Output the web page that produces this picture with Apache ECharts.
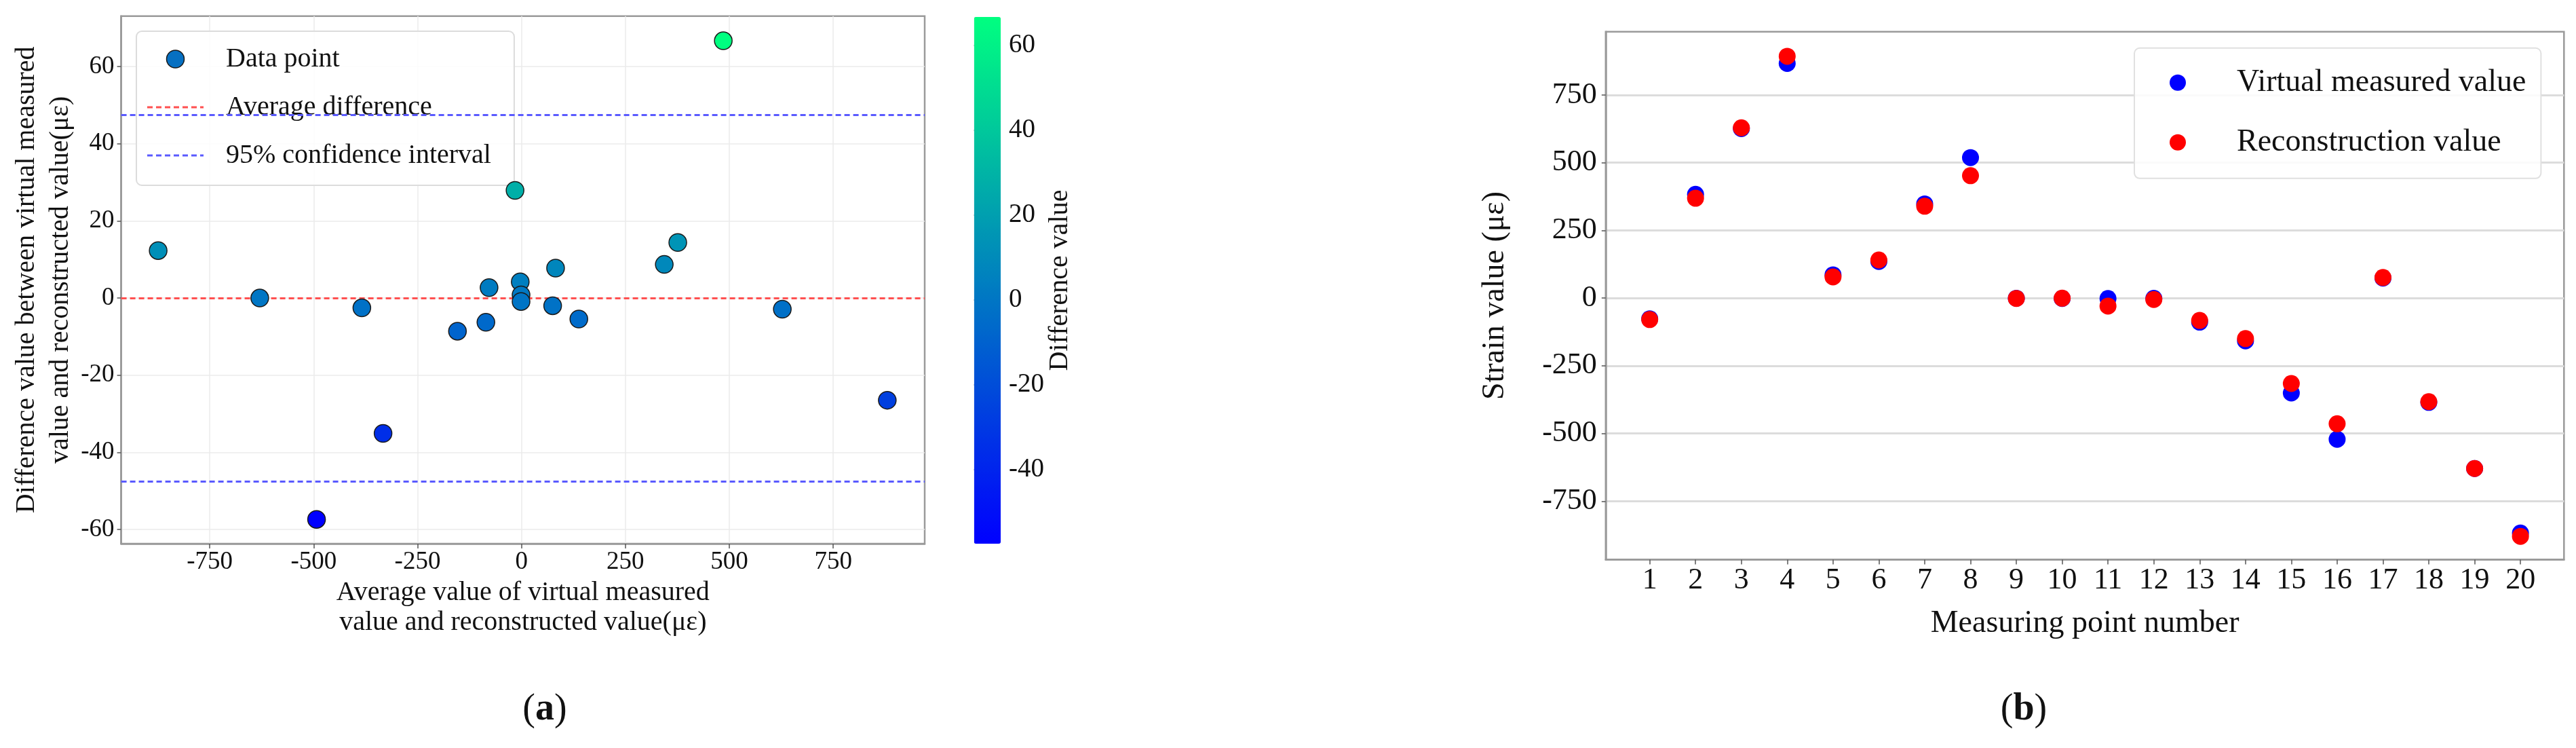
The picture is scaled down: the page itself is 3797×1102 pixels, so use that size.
<!DOCTYPE html>
<html>
<head>
<meta charset="utf-8">
<script src="https://cdn.jsdelivr.net/npm/echarts@6/dist/echarts.min.js"></script>
<style>
  html, body { margin: 0; padding: 0; background: #fff; }
  #chart { width: 3797px; height: 1102px; }
</style>
</head>
<body>
<div id="chart"></div>
<script>
// (a) Bland-Altman: average vs difference
const avgValues = [-874, -629.6, -384, -154, -85.6, -78, -15.5, -3, -1, -1, 75, 82, 138, 343.5, 376, 485.5, 627.5, 880, -333, -493]
const diffValues = [12.3, 0, -2.55, -8.6, -6.3, 2.7, 27.9, 4.2, 0.8, -0.9, -2.0, 7.75, -5.45, 8.7, 14.4, 66.7, -2.9, -26.5, -35.1, -57.4]
const meanDiff = 0
const ciUpper = 47.4
const ciLower = -47.5
const aXTicks = [-750, -500, -250, 0, 250, 500, 750]
const aYTicks = [-60, -40, -20, 0, 20, 40, 60]
const cbTicks = [-40, -20, 0, 20, 40, 60]

// (b) measured vs reconstructed strain per point
const pointNumbers = [1, 2, 3, 4, 5, 6, 7, 8, 9, 10, 11, 12, 13, 14, 15, 16, 17, 18, 19, 20]
const measuredValues = [-76.6, 383.2, 626, 866.7, 85.9, 135.3, 347.9, 518.9, -0.6, -1.45, -1.6, -0.9, -88.8, -158.3, -350.6, -521.7, 74, -385.3, -629.6, -867.9]
const reconValues = [-79.4, 368.8, 629, 893.2, 78.1, 140.7, 339.2, 452.2, -1.4, -0.55, -29.5, -5.1, -82.5, -149.7, -315.5, -464.3, 76, -382.7, -629.6, -880.2]
const bYTicks = [-750, -500, -250, 0, 250, 500, 750]

const FONT = '"Liberation Serif", "Times New Roman", serif'
// dashed line icon for the legend
const DASH_ICON = 'path://M0,0h8v3h-8zM13,0h8v3h-8zM26,0h8v3h-8zM39,0h8v3h-8zM52,0h8v3h-8zM65,0h8v3h-8zM78,0h5v3h-5z'
const RED_LINE = '#ff5050'
const BLUE_LINE = '#5a5aff'

const chart = echarts.init(document.getElementById('chart'))

const option = {
  backgroundColor: '#fff',
  textStyle: { fontFamily: FONT, color: '#111' },
  animation: false,
  grid: [
    { left: 178.6, top: 23.7, width: 1184.4, height: 777.3, show: true, borderColor: '#9a9a9a', borderWidth: 2.5 },
    { left: 2366.8, top: 46.7, width: 1412.5, height: 777.7, show: true, borderColor: '#9a9a9a', borderWidth: 2.5 },
    // colorbar axis
    { left: 1435.7, top: 24.9, width: 39.3, height: 776.1, show: false }
  ],
  xAxis: [
    {
      gridIndex: 0, type: 'value', min: -963, max: 970,
      name: 'Average value of virtual measured\nvalue and reconstructed value(\u03bc\u03b5)',
      nameLocation: 'middle', nameGap: 49,
      nameTextStyle: { fontFamily: FONT, fontSize: 40, lineHeight: 44, color: '#111' },
      axisLine: { onZero: false, lineStyle: { color: '#999', width: 2.5 } },
      axisTick: { show: true, length: 7, customValues: aXTicks, lineStyle: { color: '#555', width: 1.5 } },
      axisLabel: { customValues: aXTicks, fontFamily: FONT, fontSize: 37, color: '#111', margin: 9 },
      splitLine: { show: true, lineStyle: { color: '#ebebeb', width: 1.5 } }
    },
    {
      gridIndex: 1, type: 'value', min: 0.04, max: 20.95,
      name: 'Measuring point number',
      nameLocation: 'middle', nameGap: 70,
      nameTextStyle: { fontFamily: FONT, fontSize: 46, lineHeight: 50, color: '#111' },
      axisLine: { onZero: false, lineStyle: { color: '#999', width: 2.5 } },
      axisTick: { show: true, length: 7, customValues: pointNumbers, lineStyle: { color: '#555', width: 1.5 } },
      axisLabel: { customValues: pointNumbers, fontFamily: FONT, fontSize: 44, color: '#111', margin: 9 },
      splitLine: { show: false }
    },
    { gridIndex: 2, type: 'value', min: 0, max: 1, show: false }
  ],
  yAxis: [
    {
      gridIndex: 0, type: 'value', min: -63.7, max: 73.1,
      name: 'Difference value between virtual measured\nvalue and reconstructed value(\u03bc\u03b5)',
      nameLocation: 'middle', nameGap: 64, nameRotate: 90,
      nameTextStyle: { fontFamily: FONT, fontSize: 40, lineHeight: 50, color: '#111' },
      axisLine: { show: true, onZero: false, lineStyle: { color: '#999', width: 2.5 } },
      axisTick: { show: true, length: 6, customValues: aYTicks, lineStyle: { color: '#555', width: 1.5 } },
      axisLabel: { customValues: aYTicks, fontFamily: FONT, fontSize: 37, color: '#111', margin: 10 },
      splitLine: { show: true, lineStyle: { color: '#ebebeb', width: 1.5 } }
    },
    {
      gridIndex: 1, type: 'value', min: -966, max: 984,
      name: 'Strain value (\u03bc\u03b5)',
      nameLocation: 'middle', nameGap: 140, nameRotate: 90,
      nameTextStyle: { fontFamily: FONT, fontSize: 46, color: '#111' },
      axisLine: { show: true, onZero: false, lineStyle: { color: '#999', width: 2.5 } },
      axisTick: { show: true, length: 6, customValues: bYTicks, lineStyle: { color: '#555', width: 1.5 } },
      axisLabel: { customValues: bYTicks, fontFamily: FONT, fontSize: 44, color: '#111', margin: 13 },
      splitLine: { show: true, lineStyle: { color: '#dcdcdc', width: 3 } }
    },
    {
      gridIndex: 2, type: 'value', min: -57.4, max: 66.7, position: 'right',
      name: 'Difference value',
      nameLocation: 'middle', nameGap: 64, nameRotate: 90,
      nameTextStyle: { fontFamily: FONT, fontSize: 40, color: '#111' },
      axisLine: { show: false },
      axisTick: { show: true, length: 7, inside: false, customValues: cbTicks, lineStyle: { color: '#333', width: 1.5 } },
      axisLabel: { customValues: cbTicks, fontFamily: FONT, fontSize: 39, color: '#111', margin: 12 },
      splitLine: { show: false }
    }
  ],
  visualMap: {
    type: 'continuous',
    seriesIndex: 0,
    dimension: 1,
    min: -57.4,
    max: 66.7,
    orient: 'vertical',
    left: 1435.7,
    top: 24.9,
    itemWidth: 39.3,
    itemHeight: 776.1,
    padding: 0,
    calculable: false,
    hoverLink: false,
    inRange: { color: ['#0000ff', '#00ff80'] },
    textStyle: { color: 'transparent' }
  },
  legend: [
    {
      left: 201, top: 46,
      orient: 'vertical',
      padding: [21, 34, 24, 16],
      itemWidth: 83, itemHeight: 26, itemGap: 31,
      backgroundColor: 'rgba(255,255,255,0.85)',
      borderColor: '#dcdcdc', borderWidth: 2, borderRadius: 8,
      textStyle: { fontFamily: FONT, fontSize: 40, color: '#111', padding: [0, 0, 0, 28] },
      data: [
        { name: 'Data point', icon: 'circle', itemStyle: { color: '#0670c2', borderColor: '#1a1a1a', borderWidth: 1.5 } },
        { name: 'Average difference', icon: DASH_ICON, itemStyle: { color: RED_LINE, borderWidth: 0 } },
        { name: '95% confidence interval', icon: DASH_ICON, itemStyle: { color: BLUE_LINE, borderWidth: 0 } }
      ]
    },
    {
      left: 3146, top: 70.8,
      orient: 'vertical',
      padding: [28, 22, 30, 52],
      itemWidth: 24, itemHeight: 24, itemGap: 42,
      backgroundColor: 'rgba(255,255,255,0.85)',
      borderColor: '#e0e0e0', borderWidth: 2, borderRadius: 8,
      textStyle: { fontFamily: FONT, fontSize: 46, color: '#111', padding: [0, 0, 0, 70] },
      data: [
        { name: 'Virtual measured value', icon: 'circle' },
        { name: 'Reconstruction value', icon: 'circle' }
      ]
    }
  ],
  series: [
    {
      name: 'Data point',
      type: 'scatter',
      xAxisIndex: 0, yAxisIndex: 0,
      symbolSize: 26,
      itemStyle: { color: '#0670c2', borderColor: '#1a1a1a', borderWidth: 1.5, opacity: 1 },
      data: avgValues.map((x, i) => [x, diffValues[i]]),
      z: 5
    },
    {
      name: 'Average difference',
      type: 'line',
      xAxisIndex: 0, yAxisIndex: 0,
      symbol: 'none',
      color: RED_LINE,
      lineStyle: { color: RED_LINE, width: 3, type: [8, 5] },
      data: [],
      markLine: {
        silent: true, symbol: 'none', animation: false,
        label: { show: false },
        lineStyle: { color: RED_LINE, width: 3, type: [8, 5] },
        data: [{ yAxis: meanDiff }]
      },
      z: 3
    },
    {
      name: '95% confidence interval',
      type: 'line',
      xAxisIndex: 0, yAxisIndex: 0,
      symbol: 'none',
      color: BLUE_LINE,
      lineStyle: { color: BLUE_LINE, width: 3, type: [8, 5] },
      data: [],
      markLine: {
        silent: true, symbol: 'none', animation: false,
        label: { show: false },
        lineStyle: { color: BLUE_LINE, width: 3, type: [8, 5] },
        data: [{ yAxis: ciUpper }, { yAxis: ciLower }]
      },
      z: 3
    },
    {
      name: 'Virtual measured value',
      type: 'scatter',
      xAxisIndex: 1, yAxisIndex: 1,
      symbolSize: 25,
      itemStyle: { color: '#0000ff', opacity: 1 },
      data: pointNumbers.map((p, i) => [p, measuredValues[i]]),
      z: 4
    },
    {
      name: 'Reconstruction value',
      type: 'scatter',
      xAxisIndex: 1, yAxisIndex: 1,
      symbolSize: 25,
      itemStyle: { color: '#ff0000', opacity: 1 },
      data: pointNumbers.map((p, i) => [p, reconValues[i]]),
      z: 5
    }
  ],
  graphic: [
    {
      type: 'text',
      style: {
        x: 803, y: 1046, text: '{n|(}{b|a}{n|)}', textAlign: 'center', textVerticalAlign: 'middle',
        rich: { n: { fontFamily: FONT, fontSize: 56, fill: '#111' }, b: { fontFamily: FONT, fontSize: 56, fontWeight: 'bold', fill: '#111' } }
      }
    },
    {
      type: 'text',
      style: {
        x: 2983, y: 1046, text: '{n|(}{b|b}{n|)}', textAlign: 'center', textVerticalAlign: 'middle',
        rich: { n: { fontFamily: FONT, fontSize: 56, fill: '#111' }, b: { fontFamily: FONT, fontSize: 56, fontWeight: 'bold', fill: '#111' } }
      }
    }
  ]
}

chart.setOption(option)
</script>
</body>
</html>
